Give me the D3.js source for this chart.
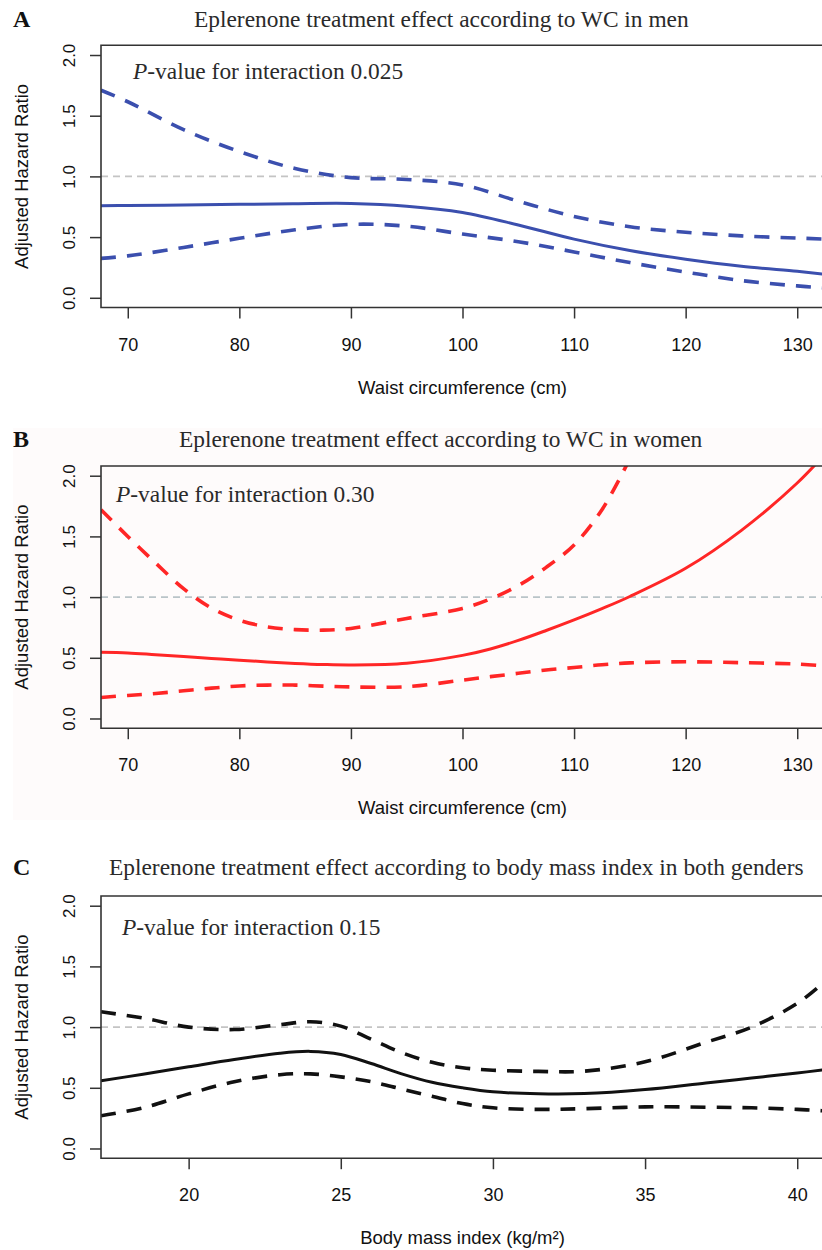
<!DOCTYPE html>
<html>
<head>
<meta charset="utf-8">
<script src="https://cdn.jsdelivr.net/npm/d3@7"></script>
<style>
  body { margin: 0; background: #fff; }
  svg { display: block; }
</style>
</head>
<body>
<div id="chart"></div>
<script>
// panel A: men, waist circumference
const wcMen = [67.6, 70, 75, 80, 85, 90, 95, 100, 105, 110, 115, 120, 125, 130, 132.4]
const hrMen = [0.758, 0.76, 0.765, 0.77, 0.775, 0.777, 0.755, 0.703, 0.6, 0.483, 0.389, 0.318, 0.26, 0.218, 0.195]
const upperMen = [1.71, 1.615, 1.385, 1.205, 1.065, 0.99, 0.975, 0.93, 0.796, 0.67, 0.585, 0.54, 0.51, 0.492, 0.484]
const lowerMen = [0.325, 0.345, 0.415, 0.49, 0.56, 0.605, 0.59, 0.525, 0.462, 0.378, 0.29, 0.212, 0.142, 0.098, 0.082]

// panel B: women, waist circumference
const wcWomen = [67.6, 70, 72.5, 75, 77.5, 80, 82.5, 85, 87.5, 90, 95, 100, 102.5, 105, 107.5, 110, 112.5, 115, 120, 125, 130, 132.4]
const hrWomen = [0.545, 0.54, 0.525, 0.51, 0.495, 0.48, 0.466, 0.454, 0.445, 0.441, 0.455, 0.52, 0.573, 0.643, 0.725, 0.812, 0.905, 1.005, 1.237, 1.55, 1.94, 2.17]
const upperWomen = [1.72, 1.5, 1.28, 1.07, 0.91, 0.81, 0.755, 0.732, 0.728, 0.742, 0.824, 0.907, 0.985, 1.095, 1.245, 1.43, 1.72, 2.14, null, null, null, null]
const lowerWomen = [0.173, 0.19, 0.206, 0.228, 0.25, 0.268, 0.275, 0.275, 0.267, 0.26, 0.262, 0.316, 0.345, 0.372, 0.4, 0.42, 0.443, 0.458, 0.467, 0.46, 0.448, 0.433]

// panel C: both genders, body mass index
const bmi = [17.12, 18.5, 20, 21.5, 23, 24, 25, 26, 27, 28, 29, 30, 31.5, 33, 35, 37, 38.5, 40, 40.88]
const hrBmi = [0.557, 0.612, 0.673, 0.733, 0.785, 0.8, 0.775, 0.7, 0.615, 0.545, 0.5, 0.467, 0.45, 0.452, 0.486, 0.54, 0.58, 0.622, 0.648]
const upperBmi = [1.126, 1.075, 1.0, 0.98, 1.02, 1.044, 1.008, 0.9, 0.79, 0.71, 0.665, 0.645, 0.635, 0.637, 0.714, 0.875, 1.0, 1.195, 1.37]
const lowerBmi = [0.27, 0.335, 0.45, 0.55, 0.608, 0.615, 0.59, 0.55, 0.49, 0.43, 0.37, 0.335, 0.322, 0.328, 0.343, 0.34, 0.335, 0.322, 0.31]

const wcTicks = [70, 80, 90, 100, 110, 120, 130]
const bmiTicks = [20, 25, 30, 35, 40]
const hrTicks = [0, 0.5, 1, 1.5, 2]

const letters = ['A', 'B', 'C']
const titles = [
  'Eplerenone treatment effect according to WC in men',
  'Eplerenone treatment effect according to WC in women',
  'Eplerenone treatment effect according to body mass index in both genders'
]
const pValues = ['0.025', '0.30', '0.15']
const xTitles = ['Waist circumference (cm)', 'Waist circumference (cm)', 'Body mass index (kg/m²)']
const yTitle = 'Adjusted Hazard Ratio'

const width = 822
const height = 1250
const plotLeft = 101
const plotRight = 824
const plotHeight = 262.2
const serif = '"Liberation Serif", "Times New Roman", serif'
const sans = '"Liberation Sans", Arial, sans-serif'

const panels = [
  {x: wcMen, series: [hrMen, upperMen, lowerMen], domain: [67.6, 132.4], ticks: wcTicks,
    color: '#3b4fae', refColor: '#c4c4c4', top: 45.3, titleX: 194, titleY: 27, pX: 133, pY: 79},
  {x: wcWomen, series: [hrWomen, upperWomen, lowerWomen], domain: [67.6, 132.4], ticks: wcTicks,
    color: '#ff2626', refColor: '#b9c4c8', top: 466, titleX: 179, titleY: 447, pX: 116, pY: 502},
  {x: bmi, series: [hrBmi, upperBmi, lowerBmi], domain: [17.12, 40.88], ticks: bmiTicks,
    color: '#111111', refColor: '#c4c4c4', top: 896, titleX: 109, titleY: 875, pX: 122, pY: 935}
]

const svg = d3.select('#chart')
  .append('svg')
    .attr('width', width)
    .attr('height', height)

// faint tint behind panel B, as in the scanned figure
svg.append('rect')
  .attr('x', 13)
  .attr('y', 428)
  .attr('width', width - 13)
  .attr('height', 392)
  .attr('fill', '#fefbfb')

panels.forEach((p, i) => {
  const bottom = p.top + plotHeight
  const x = d3.scaleLinear().domain(p.domain).range([plotLeft, plotRight])
  const y = d3.scaleLinear().domain([-0.08, 2.08]).range([bottom, p.top])
  const g = svg.append('g').attr('class', 'panel')

  g.append('text')
    .attr('x', 13)
    .attr('y', p.titleY)
    .attr('font-family', serif)
    .attr('font-weight', 'bold')
    .attr('font-size', 24)
    .attr('fill', '#111')
    .text(letters[i])

  g.append('text')
    .attr('x', p.titleX)
    .attr('y', p.titleY)
    .attr('font-family', serif)
    .attr('font-size', 23.4)
    .attr('fill', '#2a2a2a')
    .text(titles[i])

  const clipId = 'clip' + i
  g.append('clipPath')
    .attr('id', clipId)
    .append('rect')
      .attr('x', plotLeft)
      .attr('y', p.top)
      .attr('width', plotRight - plotLeft)
      .attr('height', plotHeight)

  g.append('line')
    .attr('x1', plotLeft)
    .attr('x2', plotRight)
    .attr('y1', y(1))
    .attr('y2', y(1))
    .attr('stroke', p.refColor)
    .attr('stroke-width', 1.6)
    .attr('stroke-dasharray', '7,5')

  const line = d3.line()
    .defined(d => d[1] != null)
    .x(d => x(d[0]))
    .y(d => y(d[1]))
    .curve(d3.curveCatmullRom.alpha(0.5))

  const curves = g.append('g').attr('clip-path', `url(#${clipId})`)
  p.series.forEach((s, k) => {
    curves.append('path')
      .datum(p.x.map((v, j) => [v, s[j]]))
      .attr('fill', 'none')
      .attr('stroke', p.color)
      .attr('stroke-width', k === 0 ? 3 : 3.6)
      .attr('stroke-dasharray', k === 0 ? null : '15,11')
      .attr('d', line)
  })

  g.append('path')
    .attr('d', `M${plotRight + 2},${p.top}H${plotLeft}V${bottom}H${plotRight + 2}`)
    .attr('fill', 'none')
    .attr('stroke', '#333')
    .attr('stroke-width', 1.6)

  const yAxis = g.append('g')
    .attr('transform', `translate(${plotLeft}, 0)`)
    .call(d3.axisLeft(y).tickValues(hrTicks).tickSize(11).tickFormat(d3.format('.1f')))
  yAxis.select('.domain').remove()
  yAxis.selectAll('line').attr('stroke', '#333').attr('stroke-width', 1.5)
  yAxis.selectAll('text')
    .attr('x', null)
    .attr('dy', null)
    .attr('transform', 'translate(-26, 0) rotate(-90)')
    .attr('text-anchor', 'middle')
    .attr('font-family', sans)
    .attr('font-size', 17)
    .attr('fill', '#111')

  const xAxis = g.append('g')
    .attr('transform', `translate(0, ${bottom})`)
    .call(d3.axisBottom(x).tickValues(p.ticks).tickSize(11))
  xAxis.select('.domain').remove()
  xAxis.selectAll('line').attr('stroke', '#333').attr('stroke-width', 1.5)
  xAxis.selectAll('text')
    .attr('y', 43)
    .attr('dy', null)
    .attr('font-family', sans)
    .attr('font-size', 18)
    .attr('fill', '#111')

  const pText = g.append('text')
    .attr('x', p.pX)
    .attr('y', p.pY)
    .attr('font-family', serif)
    .attr('font-size', 23.4)
    .attr('fill', '#2a2a2a')
  pText.append('tspan').attr('font-style', 'italic').text('P')
  pText.append('tspan').text('-value for interaction ' + pValues[i])

  g.append('text')
    .attr('x', (plotLeft + plotRight) / 2)
    .attr('y', bottom + 86)
    .attr('text-anchor', 'middle')
    .attr('font-family', sans)
    .attr('font-size', 18.5)
    .attr('fill', '#111')
    .text(xTitles[i])

  g.append('text')
    .attr('transform', `translate(28, ${(p.top + bottom) / 2}) rotate(-90)`)
    .attr('text-anchor', 'middle')
    .attr('font-family', sans)
    .attr('font-size', 18.5)
    .attr('fill', '#111')
    .text(yTitle)
})
</script>
</body>
</html>
